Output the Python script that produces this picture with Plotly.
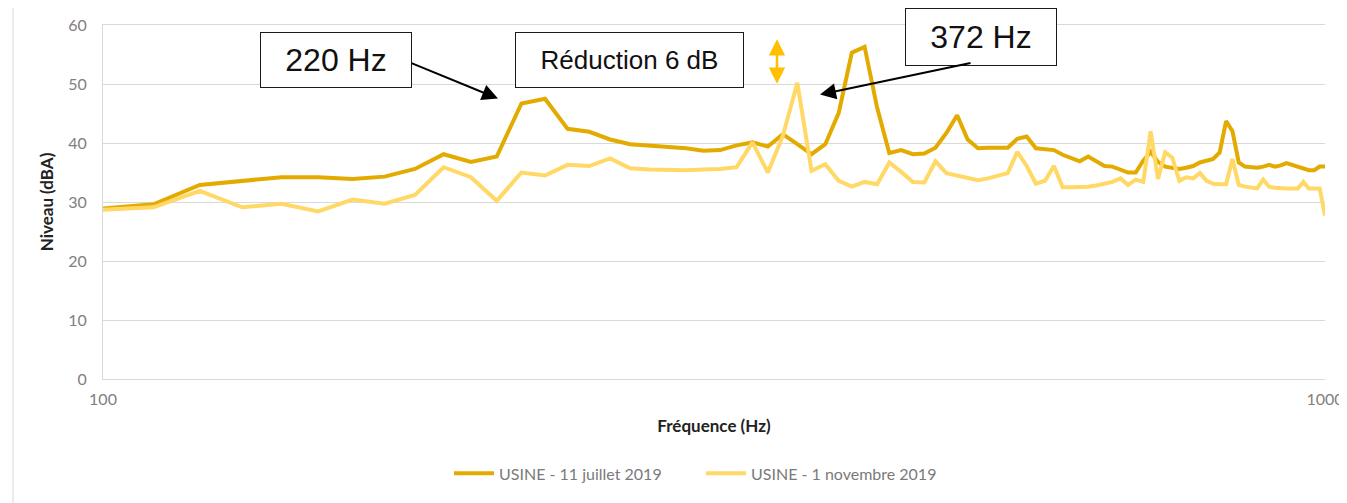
import plotly.graph_objects as go

# Frequency bins (Hz), 10 Hz spacing
freqs = list(range(100, 1001, 10))

# USINE - 11 juillet 2019 (dBA)
juillet = [
    28.9, 29.6, 32.9, 33.5, 34.2, 34.2, 33.9, 34.3, 35.6, 38.1,
    36.8, 37.7, 46.7, 47.5, 42.4, 41.9, 40.6, 39.8, 39.6, 39.3,
    39.1, 38.7, 38.8, 39.6, 40.1, 39.4, 41.5, 39.8, 38.1, 39.8,
    45.1, 55.3, 56.3, 46.0, 38.3, 38.8, 38.1, 38.2, 39.2, 41.7,
    44.7, 40.6, 39.1, 39.2, 39.2, 39.2, 40.7, 41.1, 39.1, 39.0,
    38.8, 38.0, 37.4, 36.9, 37.7, 36.8, 36.1, 36.0, 35.5, 35.0,
    35.0, 37.0, 38.5, 36.8, 36.0, 35.8, 35.6, 35.8, 36.1, 36.7,
    37.0, 37.3, 38.4, 43.7, 42.0, 36.7, 36.0, 35.9, 35.8, 36.0,
    36.3, 36.0, 36.2, 36.6, 36.3, 36.0, 35.7, 35.4, 35.4, 36.0,
    36.0,
]

# USINE - 1 novembre 2019 (dBA)
novembre = [
    28.7, 29.1, 31.9, 29.1, 29.7, 28.4, 30.4, 29.7, 31.2, 35.9,
    34.2, 30.2, 35.0, 34.5, 36.3, 36.1, 37.4, 35.7, 35.5, 35.4,
    35.4, 35.5, 35.6, 35.9, 40.1, 35.0, 41.2, 50.2, 35.3, 36.4,
    33.6, 32.6, 33.4, 33.0, 36.7, 35.1, 33.4, 33.3, 36.9, 34.9,
    34.5, 34.1, 33.7, 34.0, 34.4, 34.9, 38.5, 36.1, 33.1, 33.6,
    36.1, 32.5, 32.5, 32.5, 32.6, 32.8, 33.1, 33.4, 34.0, 32.9,
    33.8, 33.4, 42.0, 33.9, 38.4, 37.5, 33.6, 34.2, 34.0, 34.9,
    33.6, 33.1, 33.0, 33.0, 37.3, 32.9, 32.6, 32.5, 32.3, 33.8,
    32.6, 32.4, 32.3, 32.3, 32.3, 32.3, 33.4, 32.3, 32.3, 32.3,
    27.7,
]

x_ticks = [100, 1000]
x_ticktext = ["100", "1000"]

DARK = "#E3AA00"
LIGHT = "#FFD866"
GRID = "#D9D9D9"
TICK = "#808080"

# the page body adds an 8px offset, so the figure is 8px smaller
OFF = 8
W, H = 1347 - OFF, 503 - OFF
# plot area in page pixels: left 103, right 1325, top 25, bottom 381
PL, PR, PT, PB = 103, 1325, 25, 381


def px(xp):
    return (xp - PL) / (PR - PL)


def py(yp):
    return (PB - yp) / (PB - PT)


fig = go.Figure()
fig.add_trace(
    go.Scatter(
        x=freqs,
        y=juillet,
        name="USINE - 11 juillet 2019",
        mode="lines",
        line={"color": DARK, "width": 4},
    )
)
fig.add_trace(
    go.Scatter(
        x=freqs,
        y=novembre,
        name="USINE - 1 novembre 2019",
        mode="lines",
        line={"color": LIGHT, "width": 4},
    )
)

# label boxes
boxes = [
    ("220 Hz", 260, 32, 412, 88, 32),
    ("Réduction 6 dB", 515, 32, 744, 88, 26),
    ("372 Hz", 905, 8, 1057, 66, 32),
]
for text, x0, y0, x1, y1, size in boxes:
    fig.add_annotation(
        text=text,
        xref="paper",
        yref="paper",
        x=px((x0 + x1) / 2),
        y=py((y0 + y1) / 2),
        xanchor="center",
        yanchor="middle",
        width=x1 - x0 - 2,
        height=y1 - y0 - 2,
        showarrow=False,
        bgcolor="white",
        bordercolor="#1a1a1a",
        borderwidth=1,
        borderpad=0,
        font={"family": "Liberation Sans, Arial", "size": size, "color": "#111111"},
    )

# black arrows (tail -> head)
for (tx, ty), (hx, hy) in [((410, 63), (498, 99)), ((972, 63), (820, 95))]:
    fig.add_annotation(
        text="",
        xref="paper",
        yref="paper",
        x=px(hx),
        y=py(hy),
        ax=tx - hx,
        ay=ty - hy,
        axref="pixel",
        ayref="pixel",
        showarrow=True,
        arrowhead=2,
        arrowsize=1.6,
        arrowwidth=2,
        arrowcolor="black",
    )

# orange double arrow
fig.add_annotation(
    text="",
    xref="paper",
    yref="paper",
    x=px(777),
    y=py(84),
    ax=0,
    ay=38 - 84,
    showarrow=True,
    arrowhead=2,
    startarrowhead=2,
    arrowside="end+start",
    arrowsize=1.3,
    startarrowsize=1.3,
    arrowwidth=2.5,
    arrowcolor="#FFC000",
)

# outer chart border
fig.add_shape(
    type="rect",
    xref="paper",
    yref="paper",
    x0=px(13),
    x1=px(1340),
    y0=py(520),
    y1=py(5),
    line={"color": GRID, "width": 1},
    fillcolor="rgba(0,0,0,0)",
    layer="below",
)

fig.update_layout(
    width=W,
    height=H,
    margin={"l": PL - OFF, "r": 1347 - PR, "t": PT - OFF, "b": 503 - PB},
    plot_bgcolor="white",
    paper_bgcolor="white",
    font={"family": "Lato, Open Sans, sans-serif", "color": TICK, "size": 13},
    showlegend=True,
    legend={
        "orientation": "h",
        "x": px(449),
        "xanchor": "left",
        "y": py(476),
        "yanchor": "middle",
        "font": {"size": 16, "color": "#7a7a7a"},
        "itemwidth": 40,
        "entrywidth": 197,
        "entrywidthmode": "pixels",
        "tracegroupgap": 0,
    },
    xaxis={
        "type": "log",
        "range": [2, 3],
        "tickvals": x_ticks,
        "ticktext": x_ticktext,
        "automargin": False,
        "showgrid": False,
        "showline": True,
        "mirror": True,
        "linecolor": GRID,
        "linewidth": 1,
        "ticks": "outside",
        "ticklen": 6,
        "tickcolor": "rgba(0,0,0,0)",
        "tickfont": {"size": 16, "color": TICK},
        "title": {
            "text": "<b>Fréquence (Hz)</b>",
            "font": {"size": 17, "color": "#222222"},
            "standoff": 12,
        },
    },
    yaxis={
        "range": [0, 60],
        "dtick": 10,
        "automargin": False,
        "showgrid": True,
        "gridcolor": GRID,
        "gridwidth": 1,
        "zeroline": False,
        "showline": True,
        "linecolor": GRID,
        "ticks": "outside",
        "ticklen": 12,
        "tickcolor": "rgba(0,0,0,0)",
        "tickfont": {"size": 16, "color": TICK},
        "title": {
            "text": "<b>Niveau (dBA)</b>",
            "font": {"size": 17, "color": "#222222"},
            "standoff": 10,
        },
    },
)

fig.write_html("out.html")
